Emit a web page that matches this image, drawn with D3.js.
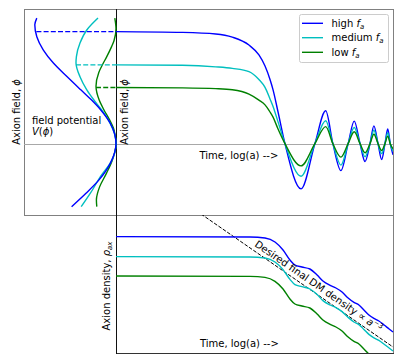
<!DOCTYPE html>
<html>
<head>
<meta charset="utf-8">
<script src="https://cdn.jsdelivr.net/npm/d3@7"></script>
<style>
  body { margin: 0; background: #fff; }
  text { font-family: "DejaVu Sans", sans-serif; font-size: 10px; fill: #000; }
</style>
</head>
<body>
<div id="chart"></div>
<script>
let seriesNames = ["high", "medium", "low"]
let seriesColors = ["#0000ff", "#00bfbf", "#008000"]

// field potential V(phi), phi on the vertical
let potHighPhi = [3.17, 3.00, 2.70, 2.37, 2.03, 1.69, 1.36, 1.10, 0.85, 0.51, 0.25, 0, -0.49, -0.92, -1.25, -1.59]
let potHighV   = [1.98, 2.03, 1.98, 1.82, 1.56, 1.22, 0.88, 0.61, 0.38, 0.14, 0.035, 0, 0.14, 0.43, 0.75, 1.11]
let potMedPhi  = [3.17, 2.87, 2.54, 2.20, 2.04, 1.69, 1.36, 1.06, 0.77, 0.50, 0.26, 0, -0.41, -0.83, -1.25, -1.59]
let potMedV    = [0.45, 0.73, 0.90, 0.99, 1.00, 0.90, 0.73, 0.52, 0.30, 0.14, 0.04, 0, 0.10, 0.39, 0.64, 0.87]
let potLowPhi  = [3.17, 2.90, 2.60, 2.45, 2.18, 2.03, 1.80, 1.45, 1.10, 0.85, 0.60, 0.35, 0, -0.41, -0.75, -1.09, -1.42, -1.59]
let potLowV    = [0.03, 0.00, 0.05, 0.11, 0.24, 0.32, 0.43, 0.50, 0.42, 0.30, 0.16, 0.05, 0, 0.09, 0.24, 0.41, 0.49, 0.48]

// starting field value and its potential
let startPhi = [2.83, 1.99, 1.42]
let startV = [1.99, 1.00, 0.50]

// field vs time, log(a)
let fieldT    = [0, 2.4, 3.6, 4.2, 4.8, 5.16, 5.38, 5.56, 5.67, 5.85, 6.10, 6.68, 7.18, 7.57, 7.83, 8.12, 8.38, 8.60, 8.81, 8.99, 9.17, 9.31, 9.46, 9.59, 9.71, 9.81, 9.90, 10]
let fieldHigh = [2.83, 2.81, 2.77, 2.69, 2.49, 2.24, 1.96, 1.62, 1.36, 0.80, 0, -1.14, 0, 0.83, 0, -0.68, 0, 0.57, 0, -0.45, 0, 0.45, 0, -0.40, 0, 0.37, 0, -0.28]
let fieldMed  = [1.99, 1.98, 1.94, 1.90, 1.82, 1.62, 1.42, 1.13, 0.94, 0.55, 0, -0.82, 0, 0.58, 0, -0.54, 0, 0.41, 0, -0.33, 0, 0.34, 0, -0.25, 0, 0.28, 0, -0.19]
let fieldLow  = [1.42, 1.41, 1.39, 1.36, 1.25, 1.10, 0.98, 0.80, 0.67, 0.37, 0, -0.56, 0, 0.43, 0, -0.34, 0, 0.30, 0, -0.23, 0, 0.24, 0, -0.17, 0, 0.19, 0, -0.13]

// log density vs time
let rhoT    = [0, 4.84, 5.38, 5.74, 6.03, 6.28, 6.46, 6.71, 7.00, 7.26, 7.47, 7.73, 7.94, 8.16, 8.38, 8.59, 8.77, 8.95, 9.13, 9.31, 9.49, 9.68, 9.86, 10]
let rhoHigh = [5.82, 5.80, 5.75, 5.55, 5.15, 4.65, 4.40, 4.30, 4.20, 3.90, 3.60, 3.38, 3.25, 3.05, 2.75, 2.53, 2.40, 2.15, 1.90, 1.73, 1.60, 1.40, 1.20, 1.05]
let rhoMed  = [4.82, 4.80, 4.75, 4.55, 4.17, 3.68, 3.42, 3.32, 3.20, 2.92, 2.62, 2.40, 2.27, 2.07, 1.78, 1.55, 1.42, 1.18, 0.93, 0.76, 0.63, 0.44, 0.25, 0.10]
let rhoLow  = [3.85, 3.83, 3.78, 3.58, 3.20, 2.70, 2.45, 2.35, 2.25, 1.95, 1.65, 1.43, 1.30, 1.10, 0.80, 0.58, 0.45, 0.20, -0.05, -0.22, -0.35, -0.55, -0.75, -0.90]

// desired final DM density, a^-3
let dmT = [3.07, 10]
let dmRho = [6.95, 0.30]

function renderChart(){
  let width = 415, height = 363

  let svg = d3.select("#chart")
    .append("svg")
    .attr("width", width)
    .attr("height", height)

  let x = d3.scaleLinear().domain([0, 10]).range([116, 393])
  let yField = d3.scaleLinear().domain([-1.8, 3.4]).range([215, 9])
  let xPot = d3.scaleLinear().domain([0, 2.3]).range([116, 24])
  let yRho = d3.scaleLinear().domain([0, 6.9]).range([353, 215])

  let defs = svg.append("defs")
  defs.append("clipPath").attr("id", "clipTop")
    .append("rect").attr("x", 116).attr("y", 9).attr("width", 277).attr("height", 206)
  defs.append("clipPath").attr("id", "clipBottom")
    .append("rect").attr("x", 116).attr("y", 215).attr("width", 278).attr("height", 138)

  // frames
  svg.append("rect")
    .attr("x", 24.5).attr("y", 9.5).attr("width", 369).attr("height", 206)
    .attr("fill", "none").attr("stroke", "#808080")
  svg.append("line")
    .attr("x1", 24).attr("x2", 393).attr("y1", Math.round(yField(0)) + 0.5).attr("y2", Math.round(yField(0)) + 0.5)
    .attr("stroke", "#a8a8a8")
  svg.append("line")
    .attr("x1", 393.5).attr("x2", 393.5).attr("y1", 215).attr("y2", 353.5)
    .attr("stroke", "#808080")
  svg.append("line")
    .attr("x1", 116).attr("x2", 394).attr("y1", 353.5).attr("y2", 353.5)
    .attr("stroke", "#333")
  svg.append("line")
    .attr("x1", 116.5).attr("x2", 116.5).attr("y1", 9).attr("y2", 354)
    .attr("stroke", "#111")

  let pots = [
    d3.zip(potHighPhi, potHighV),
    d3.zip(potMedPhi, potMedV),
    d3.zip(potLowPhi, potLowV)
  ]
  let fields = [fieldHigh, fieldMed, fieldLow].map(v => d3.zip(fieldT, v))
  let rhos = [rhoHigh, rhoMed, rhoLow].map(v => d3.zip(rhoT, v))

  let potLine = d3.line()
    .x(d => xPot(d[1]))
    .y(d => yField(d[0]))
    .curve(d3.curveMonotoneY)

  let fieldLine = d3.line()
    .x(d => x(d[0]))
    .y(d => yField(d[1]))
    .curve(d3.curveMonotoneX)

  let rhoLine = d3.line()
    .x(d => x(d[0]))
    .y(d => yRho(d[1]))
    .curve(d3.curveMonotoneX)

  // potential curves, blue on top
  let order = [2, 1, 0]
  order.forEach(function(i){
    svg.append("path")
      .attr("d", potLine(pots[i]))
      .attr("fill", "none")
      .attr("stroke", seriesColors[i])
      .attr("stroke-width", 1.4)
  })

  // dashed lines from the potential to the axis
  startPhi.forEach(function(p, i){
    svg.append("line")
      .attr("x1", xPot(startV[i])).attr("x2", xPot(0))
      .attr("y1", yField(p)).attr("y2", yField(p))
      .attr("stroke", seriesColors[i])
      .attr("stroke-width", 1.4)
      .attr("stroke-dasharray", "5,2.2")
  })

  let top = svg.append("g").attr("clip-path", "url(#clipTop)")
  fields.forEach(function(f, i){
    top.append("path")
      .attr("d", fieldLine(f))
      .attr("fill", "none")
      .attr("stroke", seriesColors[i])
      .attr("stroke-width", 1.4)
  })

  let bottom = svg.append("g").attr("clip-path", "url(#clipBottom)")
  bottom.append("path")
    .attr("d", rhoLine(d3.zip(dmT, dmRho)))
    .attr("fill", "none")
    .attr("stroke", "#000")
    .attr("stroke-width", 1)
    .attr("stroke-dasharray", "3.7,1.6")
  rhos.forEach(function(r, i){
    bottom.append("path")
      .attr("d", rhoLine(r))
      .attr("fill", "none")
      .attr("stroke", seriesColors[i])
      .attr("stroke-width", 1.4)
  })

  // labels
  let lab1 = svg.append("text").attr("transform", "translate(20,112) rotate(-90)").attr("text-anchor", "middle")
  lab1.append("tspan").text("Axion field, ")
  lab1.append("tspan").attr("font-style", "italic").text("ϕ")

  let lab2 = svg.append("text").attr("transform", "translate(127.5,112) rotate(-90)").attr("text-anchor", "middle")
  lab2.append("tspan").text("Axion field, ")
  lab2.append("tspan").attr("font-style", "italic").text("ϕ")

  let lab3 = svg.append("text").attr("transform", "translate(110,286) rotate(-90)").attr("text-anchor", "middle")
  lab3.append("tspan").text("Axion density, ")
  lab3.append("tspan").attr("font-style", "italic").text("ρ")
  lab3.append("tspan").attr("font-style", "italic").attr("font-size", "7px").attr("dy", 2).text("ax")

  svg.append("text").attr("x", 32).attr("y", 123.5).text("field potential")
  let vl = svg.append("text").attr("x", 32).attr("y", 134.5)
  vl.append("tspan").attr("font-style", "italic").text("V")
  vl.append("tspan").text("(")
  vl.append("tspan").attr("font-style", "italic").text("ϕ")
  vl.append("tspan").text(")")

  svg.append("text").attr("x", 199.5).attr("y", 158.5).text("Time, log(a) -->")
  svg.append("text").attr("x", 200).attr("y", 346.5).text("Time, log(a) -->")

  // text along the dashed a^-3 line, a little above it
  let x0 = x(dmT[0]), y0 = yRho(dmRho[0]), x1 = x(dmT[1]), y1 = yRho(dmRho[1])
  let angle = Math.atan2(y1 - y0, x1 - x0) * 180 / Math.PI
  let tx = 254, ty = y0 + (y1 - y0) * (tx - x0) / (x1 - x0) - 5
  let dm = svg.append("text").attr("transform", `translate(${tx},${ty}) rotate(${angle})`)
  dm.append("tspan").text("Desired final DM density ∝ ")
  dm.append("tspan").attr("font-style", "italic").text("a")
  dm.append("tspan").attr("font-size", "7px").attr("dy", -4).text("−3")

  // legend
  let legend = svg.append("g")
  legend.append("rect")
    .attr("x", 299.5).attr("y", 14.5).attr("width", 89).attr("height", 48).attr("rx", 2)
    .attr("fill", "#fff").attr("fill-opacity", 0.8).attr("stroke", "#cccccc")
  let rowY = [23.3, 37.7, 52.3]
  seriesNames.forEach(function(name, i){
    legend.append("line")
      .attr("x1", 302).attr("x2", 323).attr("y1", rowY[i]).attr("y2", rowY[i])
      .attr("stroke", seriesColors[i]).attr("stroke-width", 1.4)
    let t = legend.append("text").attr("x", 331.5).attr("y", rowY[i] + 3.6)
    t.append("tspan").text(name + " ")
    t.append("tspan").attr("font-style", "italic").text("f")
    t.append("tspan").attr("font-style", "italic").attr("font-size", "7px").attr("dy", 2).text("a")
  })
}

renderChart()
</script>
</body>
</html>
